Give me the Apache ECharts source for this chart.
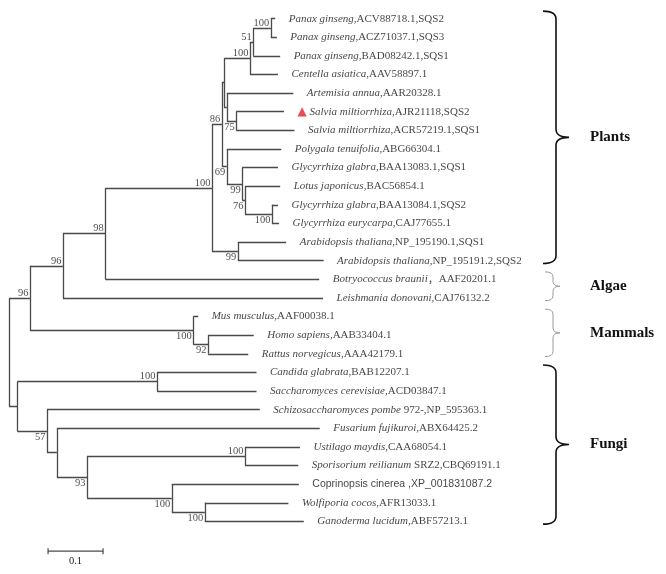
<!DOCTYPE html>
<html>
<head>
<meta charset="utf-8">
<script src="https://cdn.jsdelivr.net/npm/echarts@6.0.0/dist/echarts.min.js"></script>
<style>
  html, body { margin: 0; padding: 0; background: #fff; }
  #tree { width: 666px; height: 574px; }
</style>
</head>
<body>
<div id="tree"></div>
<script>
// leaves, top to bottom (species in italics, accession after it)
const taxa = [
  'Panax ginseng', 'Panax ginseng', 'Panax ginseng', 'Centella asiatica',
  'Artemisia annua', 'Salvia miltiorrhiza', 'Salvia miltiorrhiza', 'Polygala tenuifolia',
  'Glycyrrhiza glabra', 'Lotus japonicus', 'Glycyrrhiza glabra', 'Glycyrrhiza eurycarpa',
  'Arabidopsis thaliana', 'Arabidopsis thaliana', 'Botryococcus braunii', 'Leishmania donovani',
  'Mus musculus', 'Homo sapiens', 'Rattus norvegicus', 'Candida glabrata',
  'Saccharomyces cerevisiae', 'Schizosaccharomyces pombe', 'Fusarium fujikuroi', 'Ustilago maydis',
  'Sporisorium reilianum', 'Coprinopsis cinerea', 'Wolfiporia cocos', 'Ganoderma lucidum'
];
const accessions = [
  ',ACV88718.1,SQS2', ',ACZ71037.1,SQS3', ',BAD08242.1,SQS1', ',AAV58897.1',
  ',AAR20328.1', ',AJR21118,SQS2', ',ACR57219.1,SQS1', ',ABG66304.1',
  ',BAA13083.1,SQS1', ',BAC56854.1', ',BAA13084.1,SQS2', ',CAJ77655.1',
  ',NP_195190.1,SQS1', ',NP_195191.2,SQS2', '，AAF20201.1', ',CAJ76132.2',
  ',AAF00038.1', ',AAB33404.1', ',AAA42179.1', ',BAB12207.1',
  ',ACD03847.1', ' 972-,NP_595363.1', ',ABX64425.2', ',CAA68054.1',
  ' SRZ2,CBQ69191.1', ' ,XP_001831087.2', ',AFR13033.1', ',ABF57213.1'
];
// distance of each leaf tip from the root
const leafDepth = [
  0.484, 0.487, 0.493, 0.489, 0.517, 0.500, 0.519, 0.495,
  0.489, 0.493, 0.489, 0.491, 0.504, 0.572, 0.564, 0.571,
  0.344, 0.445, 0.435, 0.450, 0.450, 0.456, 0.565, 0.529,
  0.526, 0.527, 0.508, 0.536
];

// internal nodes: children (numbers are leaves), depth from root, bootstrap
const nodeIds = ['root', 'n96a', 'n96b', 'n98', 'nPl', 'n86', 'nA', 'nC', 'n51', 'nPx',
  'nB', 'nSal', 'n69', 'n99', 'n76', 'nGl', 'nAr', 'nMam', 'nHR',
  'nF1', 'nCS', 'nF2', 'nF3', 'nF4', 'nUS', 'nF5', 'nF6'];
const nodeKids = [
  ['n96a', 'nF1'], ['n96b', 'nMam'], ['n98', 15], ['nPl', 14], ['n86', 'nAr'],
  ['nA', 'n69'], ['nC', 'nB'], ['n51', 3], ['nPx', 2], [0, 1],
  [4, 'nSal'], [5, 6], [7, 'n99'], [8, 'n76'], [9, 'nGl'], [10, 11], [12, 13],
  [16, 'nHR'], [17, 18],
  ['nCS', 'nF2'], [19, 20], [21, 'nF3'], [22, 'nF4'], ['nUS', 'nF5'], [23, 24], [25, 'nF6'], [26, 27]
];
const nodeDepth = [0, 0.038, 0.098, 0.175, 0.369, 0.387, 0.391, 0.438, 0.444, 0.476,
  0.396, 0.413, 0.396, 0.424, 0.429, 0.478, 0.416, 0.335, 0.362,
  0.015, 0.269, 0.069, 0.087, 0.142, 0.429, 0.296, 0.356];
const nodeBoot = [null, 96, 96, 98, 100, 86, null, 100, 51, 100,
  null, 75, 69, 99, 76, 100, 99, 100, 92,
  null, 100, 57, null, 93, 100, 100, 100];

const groupNames = ['Plants', 'Algae', 'Mammals', 'Fungi'];
const groupFirst = [0, 14, 16, 19];
const groupLast = [13, 15, 18, 27];

const scaleStart = 0.071;
const scaleLength = 0.1;

// bootstrap values printed under the branch instead of above
const bootBelow = ['nSal', 'n69', 'n99', 'n76', 'nGl', 'nAr', 'nMam', 'nHR', 'nF2', 'nF4', 'nF5', 'nF6'];
const braceDark = [true, false, false, true];
const markedLeaf = 5;
const sansLeaf = 25;

const idx = {};
nodeIds.forEach((id, i) => { idx[id] = i; });

function pos(k) {
  if (typeof k === 'number') return [leafDepth[k], k];
  const i = idx[k];
  const kids = nodeKids[i].map(pos);
  return [nodeDepth[i], (kids[0][1] + kids[kids.length - 1][1]) / 2];
}

const segments = [];
const bootData = [];
nodeIds.forEach((id, i) => {
  const p = pos(id);
  const kids = nodeKids[i].map(pos);
  segments.push({ coords: [[p[0], kids[0][1]], [p[0], kids[kids.length - 1][1]]] });
  kids.forEach(c => segments.push({ coords: [[p[0], c[1]], [c[0], c[1]]] }));
  if (nodeBoot[i] != null) {
    const below = bootBelow.indexOf(id) >= 0;
    bootData.push({
      value: [p[0], p[1], nodeBoot[i]],
      label: below
        ? { position: [-1, 1], verticalAlign: 'top' }
        : { position: [-1, 1], verticalAlign: 'bottom' }
    });
  }
});

const leafData = taxa.map((t, i) => [leafDepth[i], i]);

const chart = echarts.init(document.getElementById('tree'));
chart.setOption({
  animation: false,
  grid: { left: 9, top: 0, width: 550, height: 540 },
  xAxis: { type: 'value', min: 0, max: 1, show: false },
  yAxis: { type: 'value', min: -1, max: 28, inverse: true, show: false },
  series: [
    {
      type: 'lines',
      coordinateSystem: 'cartesian2d',
      silent: true,
      lineStyle: { color: '#4a4a4a', width: 1.3, opacity: 1 },
      data: segments
    },
    {
      type: 'scatter',
      silent: true,
      symbolSize: 1,
      itemStyle: { color: 'transparent' },
      label: {
        show: true,
        position: 'right',
        distance: 13,
        color: '#111',
        fontFamily: 'Liberation Serif',
        fontSize: 11,
        formatter: p => {
          const i = p.dataIndex;
          if (i === sansLeaf) return '{s|' + taxa[i] + accessions[i] + '}';
          const acc = accessions[i].replace('，', '}{c|，}{n|');
          const txt = '{i|' + taxa[i] + '}{n|' + acc + '}';
          return i === markedLeaf ? '{tri|▲} ' + txt : txt;
        },
        rich: {
          i: { fontStyle: 'italic', fontFamily: 'Liberation Serif', fontSize: 11, color: '#111' },
          n: { fontFamily: 'Liberation Serif', fontSize: 11, color: '#111' },
          c: { fontFamily: 'Noto Sans CJK SC', fontSize: 11, color: '#111' },
          s: { fontFamily: 'Liberation Sans', fontSize: 10.5, color: '#111' },
          tri: { fontFamily: 'DejaVu Sans', fontSize: 12, color: '#e3202b' }
        }
      },
      data: leafData
    },
    {
      type: 'scatter',
      silent: true,
      symbolSize: 1,
      itemStyle: { color: 'transparent' },
      label: {
        show: true,
        align: 'right',
        color: '#1a1a1a',
        fontFamily: 'Liberation Serif',
        fontSize: 10.5,
        formatter: p => String(p.value[2])
      },
      data: bootData
    },
    {
      type: 'custom',
      silent: true,
      data: groupNames.map((g, i) => [groupFirst[i], groupLast[i]]),
      renderItem: (params, api) => {
        const i = params.dataIndex;
        const dark = braceDark[i];
        const x0 = api.coord([1, 0])[0];
        const yT = api.coord([0, api.value(0) - 0.4])[1];
        const yB = api.coord([0, api.value(1) + 0.15])[1];
        const yM = (yT + yB) / 2;
        const xL = dark ? x0 - 16 : x0 - 14;
        const xS = dark ? x0 - 3 : x0 - 6;
        const xT = dark ? x0 + 10 : x0 + 1;
        const r = dark ? 8 : 5;
        const d = 'M' + xL + ' ' + yT + ' Q' + xS + ' ' + yT + ' ' + xS + ' ' + (yT + r) +
          ' L' + xS + ' ' + (yM - r) + ' Q' + xS + ' ' + yM + ' ' + xT + ' ' + yM +
          ' Q' + xS + ' ' + yM + ' ' + xS + ' ' + (yM + r) +
          ' L' + xS + ' ' + (yB - r) + ' Q' + xS + ' ' + yB + ' ' + xL + ' ' + yB;
        return {
          type: 'group',
          children: [
            {
              type: 'path',
              shape: { pathData: d },
              style: { stroke: dark ? '#111' : '#9a9a9a', fill: 'none', lineWidth: dark ? 1.6 : 1 }
            },
            {
              type: 'text',
              style: {
                x: x0 + 31, y: yM, text: groupNames[i],
                fill: '#111', font: 'bold 15px "Liberation Serif"',
                align: 'left', verticalAlign: 'middle'
              }
            }
          ]
        };
      }
    },
    {
      type: 'custom',
      silent: true,
      data: [[scaleStart, 28.6]],
      renderItem: (params, api) => {
        const a = api.coord([api.value(0), api.value(1)]);
        const b = api.coord([api.value(0) + scaleLength, api.value(1)]);
        const st = { stroke: '#4a4a4a', lineWidth: 1.2 };
        return {
          type: 'group',
          children: [
            { type: 'line', shape: { x1: a[0], y1: a[1], x2: b[0], y2: b[1] }, style: st },
            { type: 'line', shape: { x1: a[0], y1: a[1] - 3, x2: a[0], y2: a[1] + 3 }, style: st },
            { type: 'line', shape: { x1: b[0], y1: b[1] - 3, x2: b[0], y2: b[1] + 3 }, style: st },
            {
              type: 'text',
              style: {
                x: (a[0] + b[0]) / 2, y: a[1] + 5, text: String(scaleLength),
                fill: '#1a1a1a', font: '10.5px "Liberation Serif"',
                align: 'center', verticalAlign: 'top'
              }
            }
          ]
        };
      }
    }
  ]
});
</script>
</body>
</html>
